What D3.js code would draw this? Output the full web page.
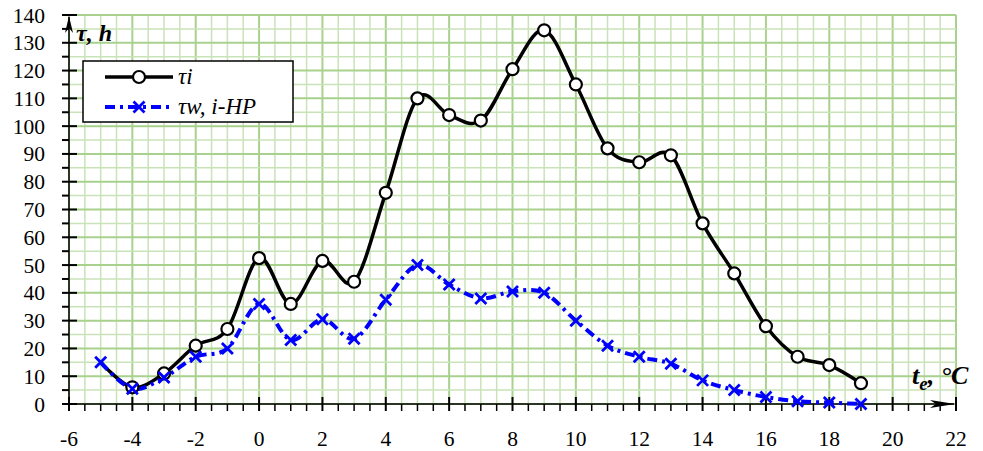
<!DOCTYPE html>
<html>
<head>
<meta charset="utf-8">
<script src="https://cdn.jsdelivr.net/npm/d3@7"></script>
<style>
  body { margin: 0; background: #fff; }
  text { font-family: "Liberation Serif", "Times New Roman", serif; }
</style>
</head>
<body>
<svg id="chart" width="983" height="451"></svg>
<script>
// --- data ---
const temps = [-5, -4, -3, -2, -1, 0, 1, 2, 3, 4, 5, 6, 7, 8, 9, 10, 11, 12, 13, 14, 15, 16, 17, 18, 19];
const tauI  = [15, 6, 11, 21, 27, 52.5, 36, 51.5, 44, 76, 110, 104, 102, 120.5, 134.5, 115, 92, 87, 89.5, 65, 47, 28, 17, 14, 7.5];
const tauW  = [15, 5.5, 9.5, 17, 20, 36, 23, 30.5, 23.5, 37.5, 50, 43, 38, 40.5, 40, 30, 21, 17, 14.5, 8.5, 5, 2.5, 1, 0.5, 0];
const xTicks = [-6, -4, -2, 0, 2, 4, 6, 8, 10, 12, 14, 16, 18, 20, 22];
const yTicks = [0, 10, 20, 30, 40, 50, 60, 70, 80, 90, 100, 110, 120, 130, 140];

const svg = d3.select("#chart");
const x = d3.scaleLinear().domain([-6, 22]).range([69, 956]);
const y = d3.scaleLinear().domain([0, 140]).range([404, 15]);

// grid (minor every 0.5 / 5, major every 2 / 10)
const grid = svg.append("g");
const xMinor = d3.range(-6, 22.01, 0.5);
const yMinor = d3.range(0, 140.01, 5);
grid.selectAll(".vx").data(xMinor).enter().append("line")
  .attr("x1", d => x(d)).attr("x2", d => x(d))
  .attr("y1", y(0)).attr("y2", y(140))
  .attr("stroke", d => d % 2 === 0 ? "#a9d18e" : "#c9e3b8")
  .attr("stroke-width", d => d % 2 === 0 ? 2 : 1.5);
grid.selectAll(".hy").data(yMinor).enter().append("line")
  .attr("x1", x(-6)).attr("x2", x(22))
  .attr("y1", d => y(d)).attr("y2", d => y(d))
  .attr("stroke", d => d % 10 === 0 ? "#a9d18e" : "#c9e3b8")
  .attr("stroke-width", d => d % 10 === 0 ? 2 : 1.5);

// axes
const ax = svg.append("g").attr("stroke", "#000").attr("stroke-width", 1.5);
ax.append("line").attr("x1", x(-6)).attr("x2", x(22) - 2).attr("y1", y(0)).attr("y2", y(0));
ax.append("line").attr("x1", x(-6)).attr("x2", x(-6)).attr("y1", y(0)).attr("y2", y(140) + 2);
svg.append("path")
  .attr("d", `M${x(22) - 1},${y(0)} L${x(22) - 26},${y(0) - 4} L${x(22) - 20},${y(0)} L${x(22) - 26},${y(0) + 4} Z`)
  .attr("fill", "#000");
svg.append("path")
  .attr("d", `M${x(-6)},${y(140) + 1} L${x(-6) - 4},${y(140) + 18} L${x(-6)},${y(140) + 13} L${x(-6) + 4},${y(140) + 18} Z`)
  .attr("fill", "#000");

ax.selectAll(".xt").data(xMinor).enter().append("line")
  .attr("x1", d => x(d)).attr("x2", d => x(d))
  .attr("y1", d => d % 2 === 0 ? y(0) - 7 : y(0))
  .attr("y2", y(0) + 7)
  .attr("stroke-width", d => d % 2 === 0 ? 2 : 1.5);
ax.selectAll(".yt").data(yMinor).enter().append("line")
  .attr("y1", d => y(d)).attr("y2", d => y(d))
  .attr("x1", x(-6) - 7)
  .attr("x2", d => d % 10 === 0 ? x(-6) + 8 : x(-6))
  .attr("stroke-width", 2);

// tick labels
svg.selectAll(".xl").data(xTicks).enter().append("text")
  .attr("x", d => x(d)).attr("y", 446)
  .attr("text-anchor", "middle").attr("font-size", 21.5)
  .text(d => d);
svg.selectAll(".yl").data(yTicks).enter().append("text")
  .attr("x", 45).attr("y", d => y(d)).attr("dy", "0.35em")
  .attr("text-anchor", "end").attr("font-size", 21.5)
  .text(d => d);

// axis titles
svg.append("text").attr("x", 76).attr("y", 41)
  .attr("font-size", 24).attr("font-weight", "bold").attr("font-style", "italic")
  .text("τ, h");
const xt = svg.append("text").attr("x", 912).attr("y", 384)
  .attr("font-size", 26).attr("font-weight", "bold").attr("font-style", "italic");
xt.append("tspan").text("t");
xt.append("tspan").attr("dy", 6).attr("font-size", 19).text("e");
xt.append("tspan").attr("dy", -6).text(", °C");

// series
const line = d3.line()
  .x((d, i) => x(temps[i]))
  .y(d => y(d))
  .curve(d3.curveCardinal.tension(0));

svg.append("path").datum(tauI).attr("d", line)
  .attr("fill", "none").attr("stroke", "#000").attr("stroke-width", 3.5);
svg.append("path").datum(tauW).attr("d", line)
  .attr("fill", "none").attr("stroke", "#0000ff").attr("stroke-width", 4)
  .attr("stroke-dasharray", "10,5,3,5");

svg.selectAll(".mi").data(tauI.slice(1)).enter().append("circle")
  .attr("cx", (d, i) => x(temps[i + 1])).attr("cy", d => y(d))
  .attr("r", 6).attr("fill", "#fff").attr("stroke", "#000").attr("stroke-width", 2.2);

const xMark = (sel, s) => sel.attr("d", `M${-s},${-s}L${s},${s}M${-s},${s}L${s},${-s}`)
  .attr("stroke", "#0000ff").attr("stroke-width", 2.8).attr("fill", "none");
svg.selectAll(".mw").data(tauW).enter().append("path")
  .attr("transform", (d, i) => `translate(${x(temps[i])},${y(d)})`)
  .call(xMark, 5.5);

// legend
const lg = svg.append("g");
lg.append("rect").attr("x", 83).attr("y", 61).attr("width", 210).attr("height", 61)
  .attr("fill", "#fff").attr("stroke", "#000").attr("stroke-width", 1.5);
lg.append("line").attr("x1", 105).attr("x2", 173).attr("y1", 77).attr("y2", 77)
  .attr("stroke", "#000").attr("stroke-width", 3.5);
lg.append("circle").attr("cx", 139).attr("cy", 77).attr("r", 6)
  .attr("fill", "#fff").attr("stroke", "#000").attr("stroke-width", 2.2);
lg.append("line").attr("x1", 105).attr("x2", 173).attr("y1", 107).attr("y2", 107)
  .attr("stroke", "#0000ff").attr("stroke-width", 4).attr("stroke-dasharray", "10,5,3,5");
lg.append("path").attr("transform", "translate(139,107)").call(xMark, 5.5);
lg.append("text").attr("x", 178).attr("y", 84).attr("font-size", 23).attr("font-style", "italic").text("τi");
lg.append("text").attr("x", 178).attr("y", 114).attr("font-size", 23).attr("font-style", "italic").text("τw, i-HP");
</script>
</body>
</html>
